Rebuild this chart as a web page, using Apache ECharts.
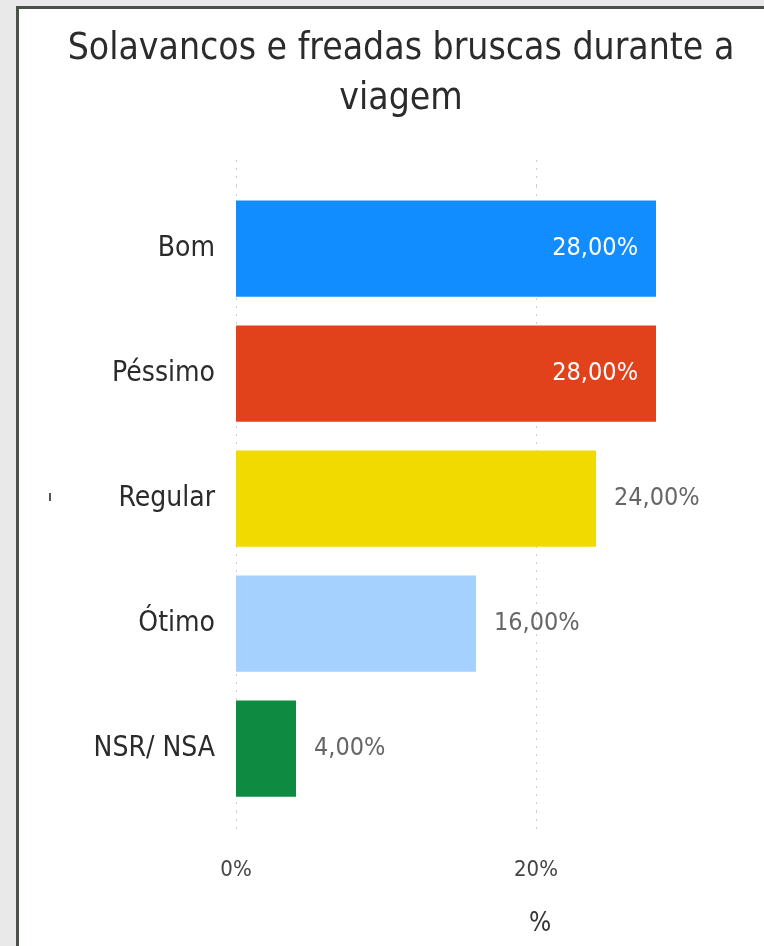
<!DOCTYPE html>
<html>
<head>
<meta charset="utf-8">
<script src="https://cdn.jsdelivr.net/npm/echarts@6/dist/echarts.min.js"></script>
<style>
  html, body { margin: 0; padding: 0; width: 764px; height: 946px; overflow: hidden; background: #e8e9e8; }
  #paper { position: absolute; left: 16px; top: 6px; right: 0; bottom: 0; background: #fff;
           border-left: 3px solid #4b504b; border-top: 3px solid #4b504b; }
  #chart { position: absolute; left: 0; top: 0; width: 764px; height: 946px; }
</style>
</head>
<body>
<div id="paper"></div>
<div id="chart"></div>
<script>
// Solavancos e freadas bruscas – barras horizontais, estilo Power BI
const categorias = ['Bom', 'Péssimo', 'Regular', 'Ótimo', 'NSR/ NSA']
const valores = [28, 28, 24, 16, 4]
const cores = ['#118dff', '#e2421b', '#f0da00', '#a4d1ff', '#0e8a41']
const rotuloDentro = [true, true, false, false, false]
const ticks = [0, 20]

const FONT = '"Liberation Sans Narrow", "DejaVu Sans Condensed", sans-serif'
const fmt = v => v.toFixed(2).replace('.', ',') + '%'

const chart = echarts.init(document.getElementById('chart'), null, { renderer: 'canvas' })
const dotted = { color: '#cfcfcf', type: [2, 6], width: 1 }

chart.setOption({
  backgroundColor: 'transparent',
  title: {
    text: 'Solavancos e freadas bruscas durante a\nviagem',
    left: 396, top: 19, textAlign: 'center',
    textStyle: { fontFamily: FONT, fontSize: 37, fontWeight: 'normal', color: '#2b2b2b', lineHeight: 50 }
  },
  grid: { left: 236, right: 78, top: 186, bottom: 135 },
  xAxis: [
    {
      type: 'value', min: 0, max: 30, interval: 20,
      axisLine: { show: false },
      axisTick: { show: true, inside: false, length: 20, lineStyle: dotted },
      splitLine: { show: true, showMaxLine: false, lineStyle: dotted },
      axisLabel: { showMaxLabel: false, margin: 48, formatter: v => v + '%', fontFamily: FONT, fontSize: 22, color: '#444' },
      name: '%', nameLocation: 'middle', nameGap: 100,
      nameTextStyle: { fontFamily: FONT, fontSize: 26, color: '#333', padding: [0, 0, 0, 158] }
    },
    {
      type: 'value', position: 'top', min: 0, max: 30, interval: 20,
      axisLine: { show: false },
      axisTick: { show: true, length: 31, customValues: ticks, lineStyle: dotted },
      splitLine: { show: false },
      axisLabel: { show: false }
    }
  ],
  yAxis: {
    type: 'category', inverse: true, data: categorias,
    axisLine: { show: false }, axisTick: { show: false },
    axisLabel: { margin: 21, fontFamily: FONT, fontSize: 28, color: '#2b2b2b' }
  },
  series: [{
    type: 'bar', barCategoryGap: '23%',
    data: valores.map((v, i) => ({
      value: v,
      itemStyle: { color: cores[i] },
      label: rotuloDentro[i]
        ? { position: 'insideRight', distance: 18, color: '#ffffff' }
        : { position: 'right', distance: 18, color: '#666666' }
    })),
    label: { show: true, formatter: p => fmt(p.value), fontFamily: FONT, fontSize: 25 }
  }],
  graphic: [{ type: 'rect', shape: { x: 49, y: 493, width: 2, height: 8 }, style: { fill: '#555' } }]
})
</script>
</body>
</html>
